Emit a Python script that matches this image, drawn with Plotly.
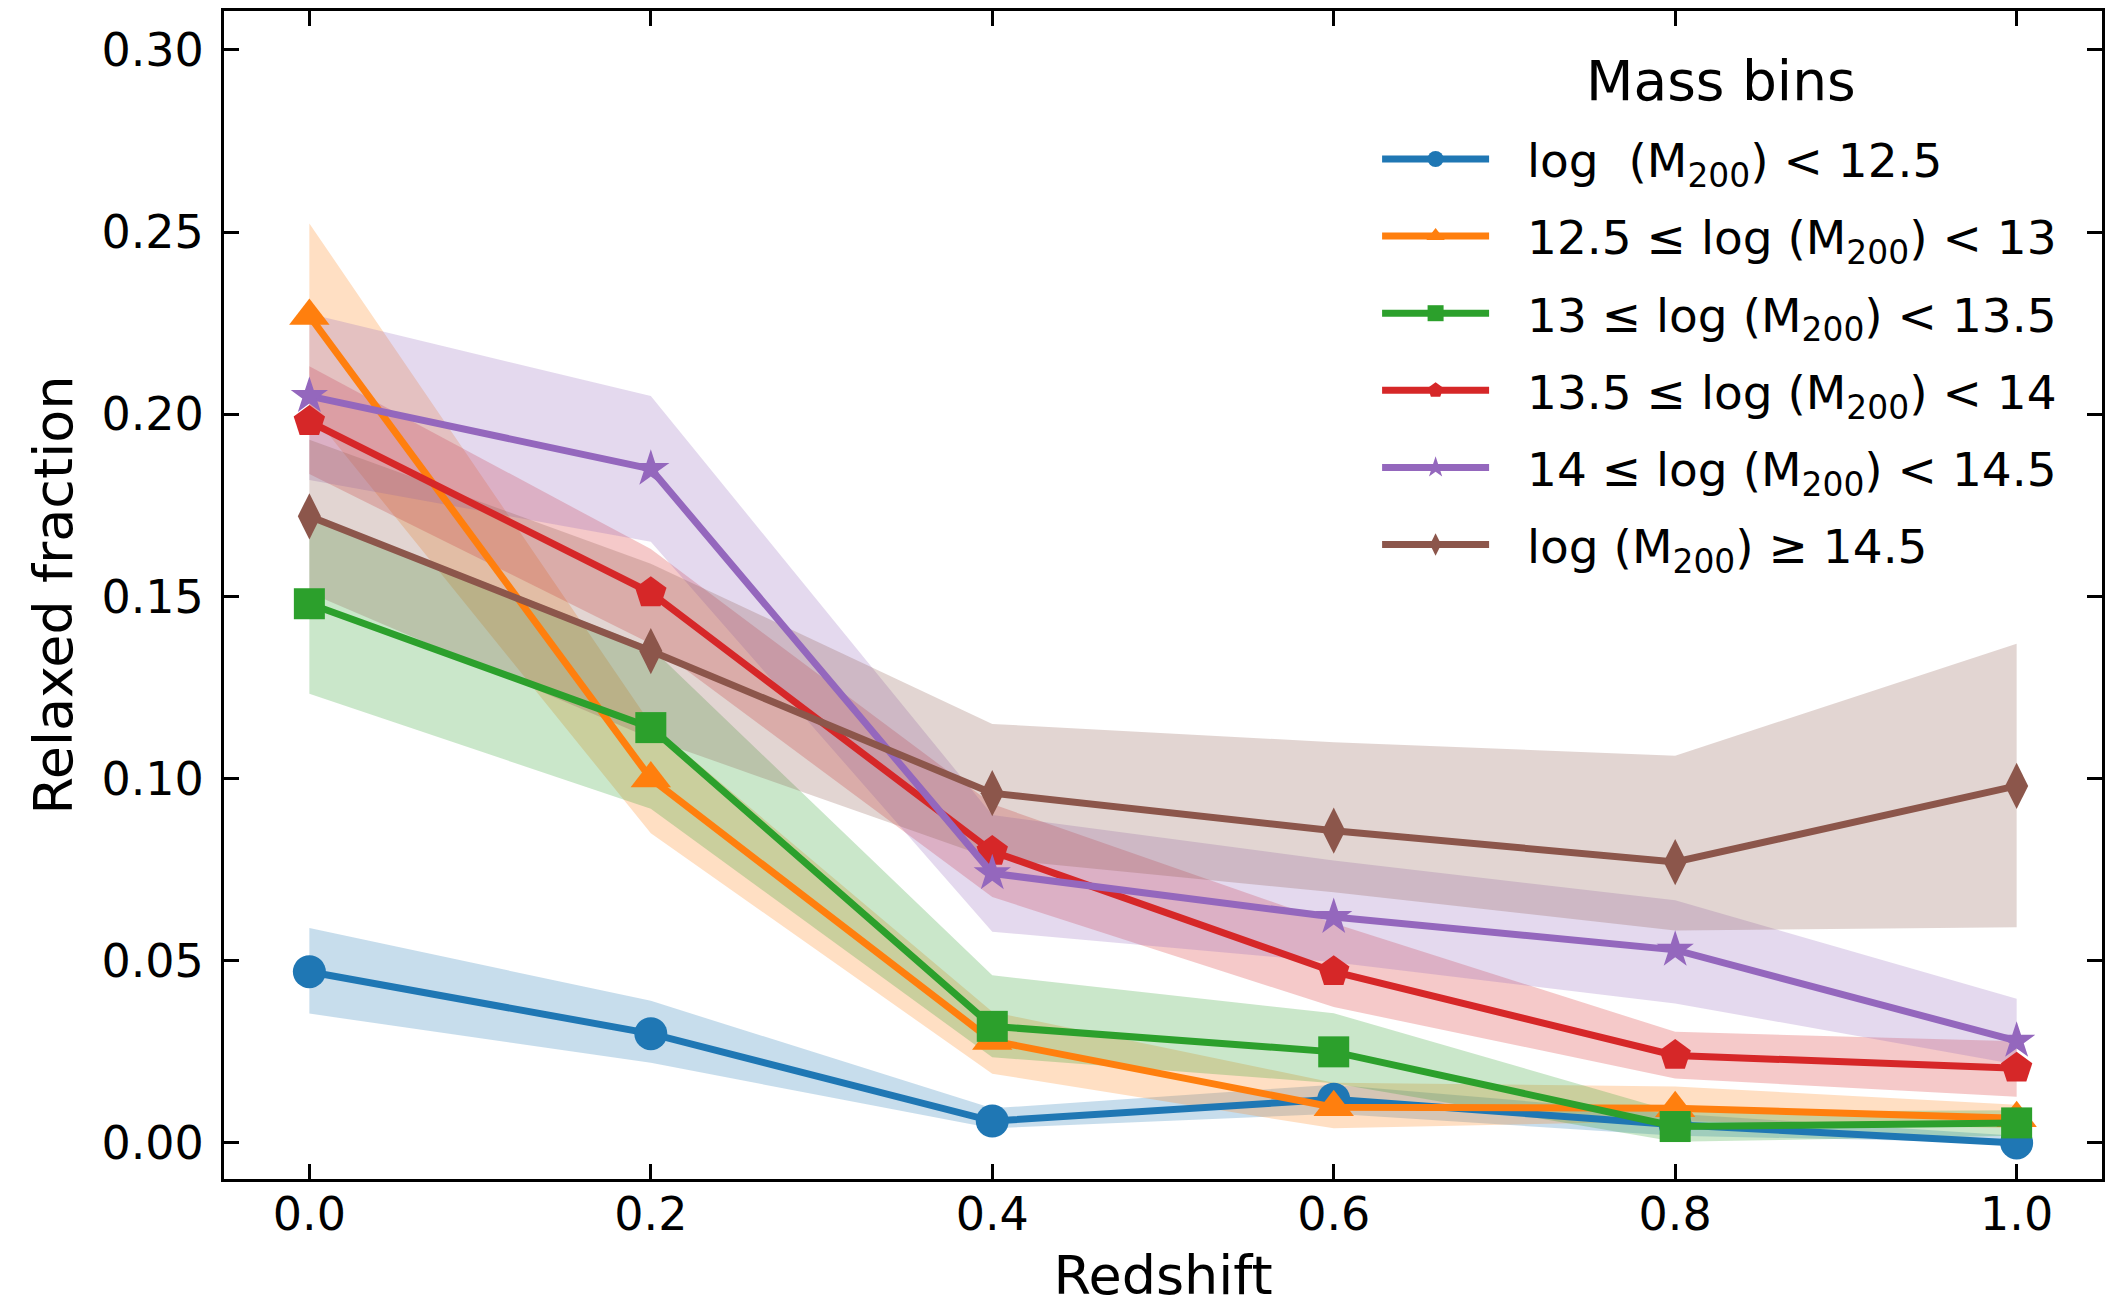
import plotly.graph_objects as go

redshift = [0.0, 0.2, 0.4, 0.6, 0.8, 1.0]

labels = [
    "log  (M<sub>200</sub>) < 12.5",
    "12.5 ≤ log (M<sub>200</sub>) < 13",
    "13 ≤ log (M<sub>200</sub>) < 13.5",
    "13.5 ≤ log (M<sub>200</sub>) < 14",
    "14 ≤ log (M<sub>200</sub>) < 14.5",
    "log (M<sub>200</sub>) ≥ 14.5",
]
legend_title = "Mass bins"

# fraction values per mass bin
f_bin1 = [0.047, 0.030, 0.006, 0.012, 0.005, 0.000]
f_bin2 = [0.227, 0.100, 0.028, 0.0098, 0.0095, 0.0068]
f_bin3 = [0.148, 0.114, 0.032, 0.025, 0.0045, 0.0055]
f_bin4 = [0.198, 0.151, 0.080, 0.047, 0.024, 0.0205]
f_bin5 = [0.205, 0.185, 0.074, 0.062, 0.053, 0.028]
f_bin6 = [0.172, 0.135, 0.096, 0.0857, 0.0771, 0.098]

# lower / upper uncertainty bounds
lo_bin1 = [0.0355, 0.022, 0.004, 0.008, 0.002, 0.000]
hi_bin1 = [0.059, 0.039, 0.0095, 0.016, 0.008, 0.002]
lo_bin2 = [0.201, 0.085, 0.019, 0.004, 0.006, 0.004]
hi_bin2 = [0.2524, 0.115, 0.036, 0.0165, 0.0155, 0.0105]
lo_bin3 = [0.1233, 0.0917, 0.0235, 0.0164, 0.0003, 0.002]
hi_bin3 = [0.1727, 0.136, 0.046, 0.0356, 0.0085, 0.009]
lo_bin4 = [0.1836, 0.137, 0.0675, 0.0373, 0.0177, 0.0127]
hi_bin4 = [0.2132, 0.163, 0.093, 0.0603, 0.0305, 0.0279]
lo_bin5 = [0.182, 0.165, 0.058, 0.0496, 0.0383, 0.0215]
hi_bin5 = [0.2276, 0.205, 0.090, 0.0775, 0.0666, 0.0396]
lo_bin6 = [0.151, 0.111, 0.078, 0.0688, 0.0583, 0.0592]
hi_bin6 = [0.193, 0.159, 0.115, 0.110, 0.1063, 0.137]

values = [f_bin1, f_bin2, f_bin3, f_bin4, f_bin5, f_bin6]
lows = [lo_bin1, lo_bin2, lo_bin3, lo_bin4, lo_bin5, lo_bin6]
highs = [hi_bin1, hi_bin2, hi_bin3, hi_bin4, hi_bin5, hi_bin6]

colors = ["#1f77b4", "#ff7f0e", "#2ca02c", "#d62728", "#9467bd", "#8c564b"]
symbols = ["circle", "triangle-up", "square", "pentagon", "star", "diamond-tall"]
msizes = [33, 35, 31, 33, 28, 33]


def rgba(hexc, a):
    h = hexc.lstrip("#")
    r, g, b = int(h[0:2], 16), int(h[2:4], 16), int(h[4:6], 16)
    return f"rgba({r},{g},{b},{a})"


fig = go.Figure()

for c, lo, hi in zip(colors, lows, highs):
    fig.add_trace(go.Scatter(
        x=redshift + redshift[::-1],
        y=hi + lo[::-1],
        fill="toself",
        fillcolor=rgba(c, 0.25),
        line=dict(width=0),
        mode="lines",
        hoverinfo="skip",
        showlegend=False,
    ))

for i, (c, v, s, ms, lab) in enumerate(zip(colors, values, symbols, msizes, labels)):
    fig.add_trace(go.Scatter(
        x=redshift, y=v, name="\u2002\u2009" + lab,
        mode="lines+markers",
        line=dict(color=c, width=7),
        marker=dict(symbol=s, size=ms, color=c, line=dict(width=0)),
        legendgroup=f"g{i}",
    ))

font_family = "DejaVu Sans"

fig.update_layout(
    width=2113, height=1307,
    margin=dict(l=224, r=11, t=11, b=128, autoexpand=False),
    paper_bgcolor="white", plot_bgcolor="white",
    font=dict(family=font_family, size=46, color="black"),
    showlegend=True,
    legend=dict(
        x=0.614, y=0.905, xanchor="left", yanchor="top",
        bgcolor="rgba(0,0,0,0)",
        font=dict(family=font_family, size=47, color="black"),
        itemwidth=107,
        tracegroupgap=13,
        itemsizing="trace",
    ),
    annotations=[dict(
        text=legend_title, xref="paper", yref="paper", x=0.797, y=0.940,
        xanchor="center", yanchor="middle", showarrow=False,
        font=dict(family=font_family, size=55, color="black"),
    )],
)

fig.update_xaxes(
    range=[-0.05, 1.05], tickmode="linear", tick0=0, dtick=0.2, tickformat=".1f",
    ticks="inside", ticklen=15, tickwidth=3, tickcolor="black",
    showline=True, linewidth=3, linecolor="black", mirror="allticks",
    showgrid=False, zeroline=False, automargin=False,
    tickfont=dict(family=font_family, size=46, color="black"),
    ticklabelstandoff=-7,
    title=dict(text="Redshift", font=dict(family=font_family, size=54, color="black"), standoff=24),
)
fig.update_yaxes(
    range=[-0.0099, 0.3107], tickmode="linear", tick0=0, dtick=0.05, tickformat=".2f",
    ticks="inside", ticklen=15, tickwidth=3, tickcolor="black",
    showline=True, linewidth=3, linecolor="black", mirror="allticks",
    showgrid=False, zeroline=False, automargin=False,
    tickfont=dict(family=font_family, size=46, color="black"),
    ticklabelstandoff=8,
    title=dict(text="Relaxed fraction", font=dict(family=font_family, size=54, color="black"), standoff=12),
)

fig.write_html("out.html")
